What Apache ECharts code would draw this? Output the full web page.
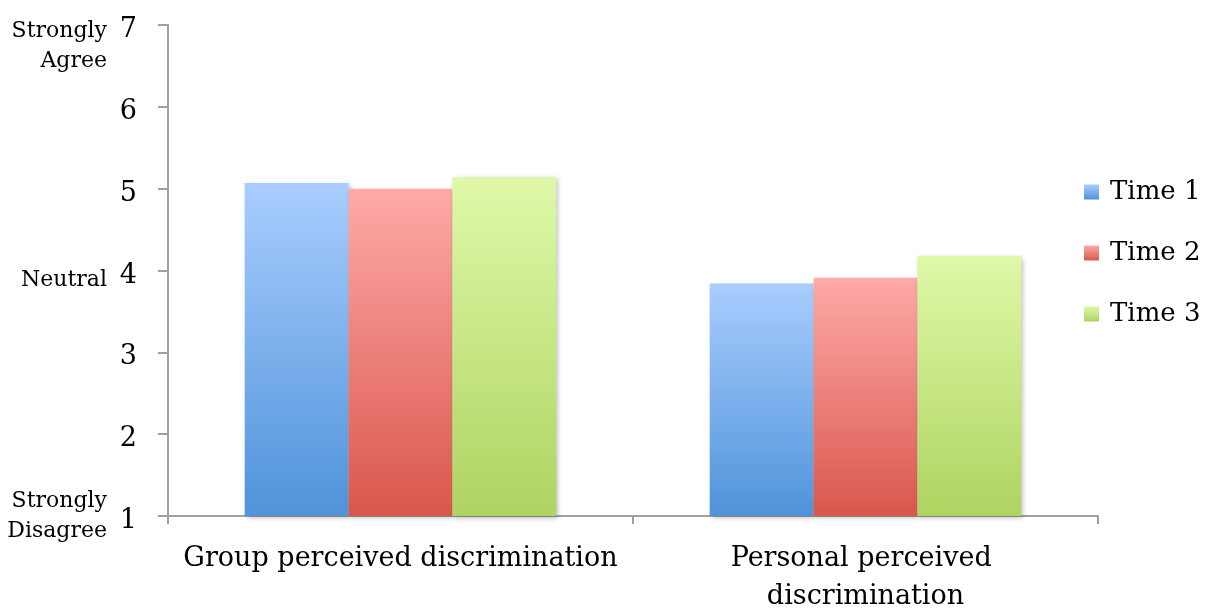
<!DOCTYPE html>
<html>
<head>
<meta charset="utf-8">
<script src="https://cdn.jsdelivr.net/npm/echarts@6/dist/echarts.min.js"></script>
<style>
  html, body { margin: 0; padding: 0; background: #fff; }
  #chart { width: 1207px; height: 608px; }
</style>
</head>
<body>
<div id="chart"></div>
<script>
// Mean agreement ratings (1 = Strongly Disagree, 7 = Strongly Agree)
const categories = ['Group perceived discrimination', 'Personal perceived discrimination'];
const seriesNames = ['Time 1', 'Time 2', 'Time 3'];
const time1 = [5.07, 3.84];
const time2 = [5.00, 3.91];
const time3 = [5.14, 4.18];
// verbal anchors of the rating scale (rich-text; the spacer row nudges a label downward)
const anchorLabels = {
  7: '{top| }\n{s|Strongly}\n{s|Agree}',
  4: '{mid| }\n{s|Neutral}',
  1: '{s|Strongly}\n{s|Disagree}'
};

const FONT = '"DejaVu Serif", "Liberation Serif", serif';

// top / bottom colours of each series' vertical gradient
const gradients = [
  ['#a9cdfe', '#4f93da'],
  ['#feaaa7', '#d9574d'],
  ['#dff9a8', '#afd361']
];

function grad(pair) {
  return new echarts.graphic.LinearGradient(0, 0, 0, 1, [
    { offset: 0, color: pair[0] },
    { offset: 1, color: pair[1] }
  ]);
}

const values = [time1, time2, time3];

const chart = echarts.init(document.getElementById('chart'), null, { renderer: 'canvas' });

chart.setOption({
  animation: false,
  backgroundColor: '#ffffff',
  grid: { left: 168, right: 109, top: 25, bottom: 92, containLabel: false, outerBoundsMode: 'none' },
  legend: {
    orient: 'vertical',
    left: 1084,
    top: 177,
    padding: 0,
    itemWidth: 15,
    itemHeight: 15,
    itemGap: 31,
    icon: 'rect',
    textStyle: { fontFamily: FONT, fontSize: 26, color: '#000', lineHeight: 30, padding: [0, 0, 0, 6] },
    data: seriesNames
  },
  xAxis: {
    type: 'category',
    data: categories,
    axisLine: { lineStyle: { color: '#a0a0a0', width: 2 } },
    axisTick: { show: true, length: 8, lineStyle: { color: '#a0a0a0', width: 2 } },
    axisLabel: {
      fontFamily: FONT, fontSize: 27, color: '#000', lineHeight: 38,
      margin: 24, width: 445, overflow: 'break', interval: 0
    }
  },
  yAxis: [
    {
      type: 'value', min: 1, max: 7, interval: 1,
      axisLine: { show: true, lineStyle: { color: '#a0a0a0', width: 2 } },
      axisTick: { show: true, length: 10, lineStyle: { color: '#a0a0a0', width: 2 } },
      splitLine: { show: false },
      axisLabel: {
        margin: 31,
        formatter: v => '{sp| }\n{n|' + v + '}',
        rich: {
          n: { fontFamily: FONT, fontSize: 27, lineHeight: 30, color: '#000', align: 'right' },
          sp: { fontSize: 8, lineHeight: 10 }
        }
      }
    },
    {
      type: 'value', min: 1, max: 7, interval: 1, position: 'left',
      axisLine: { show: false }, axisTick: { show: false }, splitLine: { show: false },
      axisLabel: {
        color: '#000', margin: 61, align: 'right',
        formatter: v => anchorLabels[v] || '',
        rich: {
          s: { fontFamily: FONT, fontSize: 22, lineHeight: 30, color: '#000', align: 'right' },
          top: { fontSize: 10, lineHeight: 42 },
          mid: { fontSize: 10, lineHeight: 20 }
        }
      }
    }
  ],
  series: seriesNames.map((name, i) => ({
    name,
    type: 'bar',
    data: values[i],
    barGap: '0%',
    barCategoryGap: '33%',
    itemStyle: {
      color: grad(gradients[i]),
      shadowColor: 'rgba(0,0,0,0.28)',
      shadowBlur: 5,
      shadowOffsetX: 2,
      shadowOffsetY: 2
    }
  }))
});
</script>
</body>
</html>
